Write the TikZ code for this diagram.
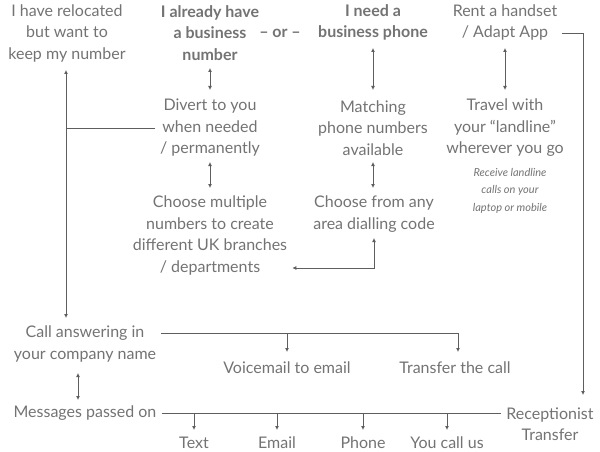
\documentclass[tikz,border=0pt]{standalone}
\usepackage{fontspec}
\usetikzlibrary{arrows.meta}
\setmainfont{Lato}
\definecolor{tg}{HTML}{737373}
\definecolor{lg}{HTML}{5E5E5E}
\begin{document}
\begin{tikzpicture}[x=1pt,y=-1pt,
  t/.style={text=tg,align=center,inner sep=1pt,font=\fontsize{16}{21.5}\selectfont},
  tb/.style={t,font=\fontsize{16}{21.5}\selectfont\bfseries},
  sm/.style={text=tg,align=center,inner sep=1pt,font=\fontsize{11}{17.5}\selectfont\itshape},
  ln/.style={draw=lg,line width=0.8pt},
  ar/.style={ln,-{Latex[length=4pt,width=4pt]}},
  da/.style={ln,{Latex[length=4pt,width=4pt]}-{Latex[length=4pt,width=4pt]}}]
\useasboundingbox (0,0) rectangle (600,452);
\node[t] (reloc) at (67,33) {I have relocated\\but want to\\keep my number};
\node[tb] (already) at (210,33) {I already have\\a business\\number};
\node[tb] (or) at (280,33) {– or –};
\node[tb] (need) at (373,22.5) {I need a\\business phone};
\node[t] (rent) at (505,22.5) {Rent a handset\\/ Adapt App};
\node[t] (divert) at (210,128) {Divert to you\\when needed\\/ permanently};
\node[t] (match) at (373,128) {Matching\\phone numbers\\available};
\node[t] (travel) at (505,128) {Travel with\\your “landline”\\wherever you go};
\node[sm] (receive) at (510,190.5) {Receive landline\\calls on your\\laptop or mobile};
\node[t] (multi) at (210,235.5) {Choose multiple\\numbers to create\\different UK branches\\/ departments};
\node[t] (area) at (374,214) {Choose from any\\area dialling code};
\node[t] (call) at (85,344) {Call answering in\\your company name};
\node[t] (voice) at (287,368) {Voicemail to email};
\node[t] (transfer) at (455,368) {Transfer the call};
\node[t] (msg) at (85,413) {Messages passed on};
\node[t] (recep) at (550,424) {Receptionist\\Transfer};
\node[t] (text) at (194,443) {Text};
\node[t] (email) at (277,443) {Email};
\node[t] (phone) at (363,443) {Phone};
\node[t] (youcall) at (447,443) {You call us};
\coordinate (rl) at (66,128);
\draw[da] (210,68) -- (210,90);
\draw[da] (373,48) -- (373,90);
\draw[da] (505,48) -- (505,90);
\draw[da] (210,162) -- (210,188);
\draw[da] (373,162) -- (373,188);
\draw[da] (374,238) -- (374,268) -- ([xshift=4pt]multi.east |- 0,268);
\draw[ar] (rl) -- (66,70);
\draw[ar] (rl) -- (66,318);
\draw[ln] (rl) -- ([xshift=-4pt]divert.west |- rl);
\draw[ln] ([xshift=4pt]call.east |- 0,333) -- (458,333);
\draw[ar] (287,333) -- (287,352);
\draw[ar] (458,333) -- (458,352);
\draw[da] (78,373) -- (78,400);
\draw[ln] ([xshift=4pt]msg.east) -- ([xshift=-4pt]recep.west |- msg.east);
\draw[ar] (194,413) -- (194,430);
\draw[ar] (277,413) -- (277,430);
\draw[ar] (363,413) -- (363,430);
\draw[ar] (447,413) -- (447,430);
\draw[ar] ([xshift=4pt]rent.east |- 0,33) -- (583,33) -- (583,395);
\end{tikzpicture}
\end{document}
